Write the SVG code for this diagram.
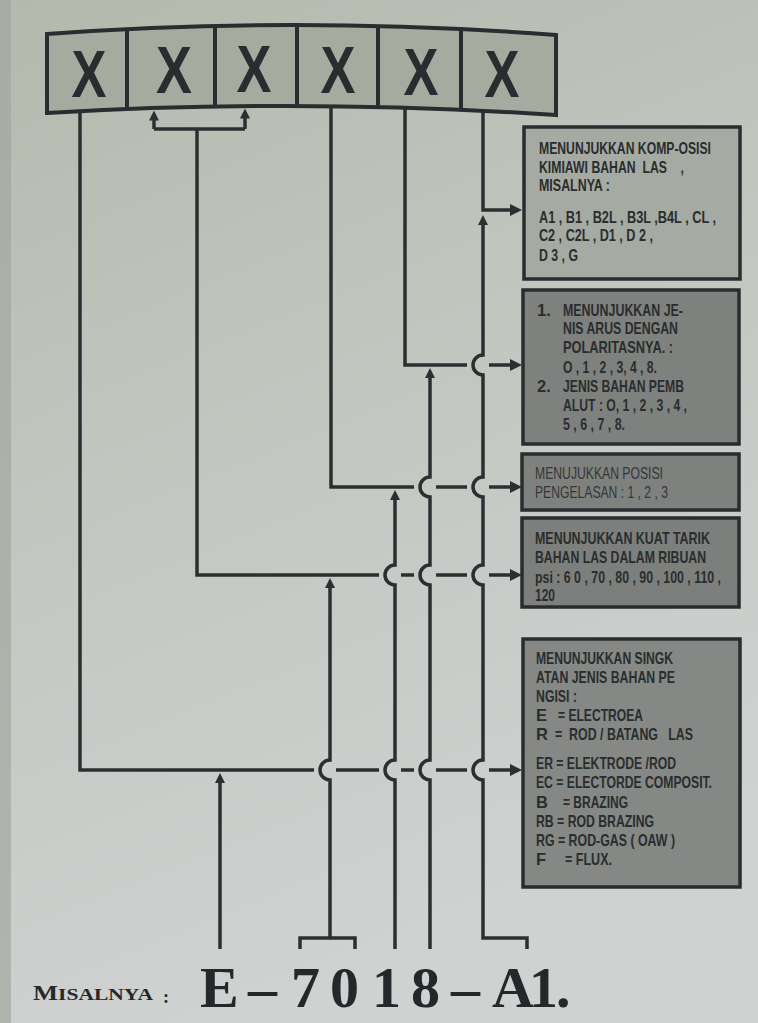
<svg xmlns="http://www.w3.org/2000/svg" width="758" height="1023" viewBox="0 0 758 1023">
<defs>
<linearGradient id="bg" x1="0" y1="0" x2="0.3" y2="1">
<stop offset="0" stop-color="#b4b9ad"/>
<stop offset="0.5" stop-color="#c3c7c1"/>
<stop offset="1" stop-color="#cfd2d1"/>
</linearGradient>
<marker id="ah" markerUnits="userSpaceOnUse" markerWidth="13" markerHeight="13" refX="8" refY="6" orient="auto">
<path d="M0,0 L12,6 L0,12 z" fill="#2c2f31"/>
</marker>
<marker id="as" markerUnits="userSpaceOnUse" markerWidth="11" markerHeight="11" refX="6" refY="5" orient="auto">
<path d="M0,0 L10,5 L0,10 z" fill="#2c2f31"/>
</marker>
</defs>
<style>
.ln{fill:none;stroke:#2c2f31;stroke-width:3.5}
.bx{stroke:#2a2d2f;stroke-width:3.5}
.t{font-family:'Liberation Sans Narrow','Liberation Sans',Arial,sans-serif;font-weight:bold;font-size:16.5px;fill:#2a2d2f}
.tl{font-family:'Liberation Sans Narrow','Liberation Sans',Arial,sans-serif;font-weight:normal;font-size:16.5px;fill:#34373a}
.x{font-family:'Liberation Sans',Arial,sans-serif;font-weight:bold;font-size:66px;fill:#2a2d2f;text-anchor:middle}
.s{font-family:'Liberation Serif','Times New Roman',serif;font-weight:bold;fill:#25282a}
</style>
<rect width="758" height="1023" fill="url(#bg)"/>
<rect x="0" y="0" width="11" height="1023" fill="#a3a89f" opacity="0.7"/>

<g id="code-boxes">
<path d="M47,34 Q300,15.5 556,35 L556,115 Q300,98 47,113 Z" fill="#a7ab9f" stroke="#2a2d2f" stroke-width="4"/>
<path d="M127,29 V109 M215,26 V106.5 M297,25 V106 M378,26 V107 M461,29 V110" stroke="#2a2d2f" stroke-width="4" fill="none"/>
<text class="x" x="89" y="97" textLength="35" lengthAdjust="spacingAndGlyphs">X</text>
<text class="x" x="174" y="93" textLength="36" lengthAdjust="spacingAndGlyphs">X</text>
<text class="x" x="254" y="92" textLength="35" lengthAdjust="spacingAndGlyphs">X</text>
<text class="x" x="338" y="93" textLength="35" lengthAdjust="spacingAndGlyphs">X</text>
<text class="x" x="421" y="95" textLength="35" lengthAdjust="spacingAndGlyphs">X</text>
<text class="x" x="502" y="97" textLength="35" lengthAdjust="spacingAndGlyphs">X</text>
</g>

<g id="connectors">
<path class="ln" d="M80,111 V770 H314"/>
<path class="ln" d="M336,770 H379 M401,770 H414 M436,770 H467"/>
<path class="ln" d="M489,770 H518" marker-end="url(#ah)"/>
<path class="ln" d="M154,129 H245"/>
<path class="ln" d="M154,129 V114.5" marker-end="url(#as)"/>
<path class="ln" d="M245,129 V112.5" marker-end="url(#as)"/>
<path class="ln" d="M197,129 V575 H379"/>
<path class="ln" d="M401,575 H414 M436,575 H467"/>
<path class="ln" d="M489,575 H518" marker-end="url(#ah)"/>
<path class="ln" d="M331,106 V487 H414"/>
<path class="ln" d="M436,487 H467"/>
<path class="ln" d="M489,487 H518" marker-end="url(#ah)"/>
<path class="ln" d="M405,108 V365 H467"/>
<path class="ln" d="M489,365 H518" marker-end="url(#ah)"/>
<path class="ln" d="M483,112 V210 H518" marker-end="url(#ah)"/>
<path class="ln" d="M220,949 V777" marker-end="url(#as)"/>
<path class="ln" d="M300,949 V938 H355 V949"/>
<path class="ln" d="M330,938 V780 A10,10 0 0 1 330,760 V582" marker-end="url(#as)"/>
<path class="ln" d="M395,949 V780 A10,10 0 0 1 395,760 V585 A10,10 0 0 1 395,565 V494" marker-end="url(#as)"/>
<path class="ln" d="M430,949 V780 A10,10 0 0 1 430,760 V585 A10,10 0 0 1 430,565 V497 A10,10 0 0 1 430,477 V372" marker-end="url(#as)"/>
<path class="ln" d="M527,949 V938 H483 V780 A10,10 0 0 1 483,760 V585 A10,10 0 0 1 483,565 V497 A10,10 0 0 1 483,477 V375 A10,10 0 0 1 483,355 V219" marker-end="url(#as)"/>
</g>

<g id="box-komposisi">
<rect class="bx" x="524" y="127" width="216" height="152" fill="#a5aaa2"/>
<text class="t" x="539" y="154" textLength="172" lengthAdjust="spacingAndGlyphs">MENUNJUKKAN KOMP-OSISI</text>
<text class="t" x="539" y="173" textLength="145" lengthAdjust="spacingAndGlyphs" xml:space="preserve">KIMIAWI BAHAN  LAS    ,</text>
<text class="t" x="539" y="191" textLength="71" lengthAdjust="spacingAndGlyphs">MISALNYA :</text>
<text class="t" x="539" y="223" textLength="177" lengthAdjust="spacingAndGlyphs">A1 , B1 , B2L , B3L ,B4L , CL  ,</text>
<text class="t" x="539" y="241" textLength="114" lengthAdjust="spacingAndGlyphs">C2 , C2L , D1 , D 2 ,</text>
<text class="t" x="539" y="261" textLength="39" lengthAdjust="spacingAndGlyphs">D 3 , G</text>
</g>

<g id="box-arus">
<rect class="bx" x="523" y="290" width="216" height="154" fill="#7e817d"/>
<text class="t" x="537" y="316">1.</text>
<text class="t" x="563" y="316" textLength="120" lengthAdjust="spacingAndGlyphs">MENUNJUKKAN  JE-</text>
<text class="t" x="563" y="334" textLength="115" lengthAdjust="spacingAndGlyphs">NIS ARUS DENGAN</text>
<text class="t" x="563" y="353" textLength="110" lengthAdjust="spacingAndGlyphs">POLARITASNYA. :</text>
<text class="t" x="563" y="373" textLength="94" lengthAdjust="spacingAndGlyphs">O , 1 , 2 , 3, 4 , 8.</text>
<text class="t" x="537" y="392">2.</text>
<text class="t" x="563" y="392" textLength="121" lengthAdjust="spacingAndGlyphs">JENIS BAHAN PEMB</text>
<text class="t" x="563" y="411" textLength="124" lengthAdjust="spacingAndGlyphs">ALUT : O, 1 , 2 , 3 , 4 ,</text>
<text class="t" x="563" y="430" textLength="62" lengthAdjust="spacingAndGlyphs">5 , 6 , 7 , 8.</text>
</g>

<g id="box-posisi">
<rect class="bx" x="522" y="454" width="217" height="56" fill="#7e817d"/>
<text class="tl" x="535" y="479" textLength="128" lengthAdjust="spacingAndGlyphs">MENUJUKKAN POSISI</text>
<text class="tl" x="535" y="498" textLength="133" lengthAdjust="spacingAndGlyphs">PENGELASAN : 1 , 2 , 3</text>
</g>

<g id="box-kuat-tarik">
<rect class="bx" x="522" y="518" width="217" height="89" fill="#7c7f7b"/>
<text class="t" x="535" y="544" textLength="175" lengthAdjust="spacingAndGlyphs">MENUNJUKKAN KUAT TARIK</text>
<text class="t" x="535" y="563" textLength="171" lengthAdjust="spacingAndGlyphs">BAHAN LAS DALAM RIBUAN</text>
<text class="t" x="535" y="583" textLength="186" lengthAdjust="spacingAndGlyphs">psi : 6 0 , 70 , 80 , 90 , 100 , 110 ,</text>
<text class="t" x="535" y="601" textLength="20" lengthAdjust="spacingAndGlyphs">120</text>
</g>

<g id="box-jenis">
<rect class="bx" x="523" y="639" width="217" height="248" fill="#858884"/>
<text class="t" x="536" y="664" textLength="137" lengthAdjust="spacingAndGlyphs">MENUNJUKKAN SINGK</text>
<text class="t" x="536" y="683" textLength="139" lengthAdjust="spacingAndGlyphs">ATAN JENIS BAHAN PE</text>
<text class="t" x="536" y="702" textLength="41" lengthAdjust="spacingAndGlyphs">NGISI :</text>
<text class="t" x="536" y="721">E</text>
<text class="t" x="558" y="721" textLength="85" lengthAdjust="spacingAndGlyphs">= ELECTROEA</text>
<text class="t" x="536" y="740">R</text>
<text class="t" x="555" y="740" textLength="138" lengthAdjust="spacingAndGlyphs" xml:space="preserve">=  ROD / BATANG   LAS</text>
<text class="t" x="536" y="769" textLength="140" lengthAdjust="spacingAndGlyphs">ER = ELEKTRODE /ROD</text>
<text class="t" x="536" y="788" textLength="176" lengthAdjust="spacingAndGlyphs">EC = ELECTORDE COMPOSIT.</text>
<text class="t" x="536" y="808">B</text>
<text class="t" x="563" y="808" textLength="65" lengthAdjust="spacingAndGlyphs">=  BRAZING</text>
<text class="t" x="536" y="827" textLength="118" lengthAdjust="spacingAndGlyphs">RB = ROD BRAZING</text>
<text class="t" x="536" y="846" textLength="139" lengthAdjust="spacingAndGlyphs">RG = ROD-GAS ( OAW )</text>
<text class="t" x="536" y="865">F</text>
<text class="t" x="565" y="865" textLength="47" lengthAdjust="spacingAndGlyphs">=  FLUX.</text>
</g>

<g id="example">
<text class="s" x="33" y="1000" textLength="120" lengthAdjust="spacingAndGlyphs"><tspan font-size="21">M</tspan><tspan font-size="17">ISALNYA</tspan></text>
<text class="s" x="163" y="1003" font-size="18">:</text>
<text class="s" font-size="58" x="200 248 291 330 372 411 451 492 529 556" y="1007">E–7018–A1.</text>
</g>
</svg>
